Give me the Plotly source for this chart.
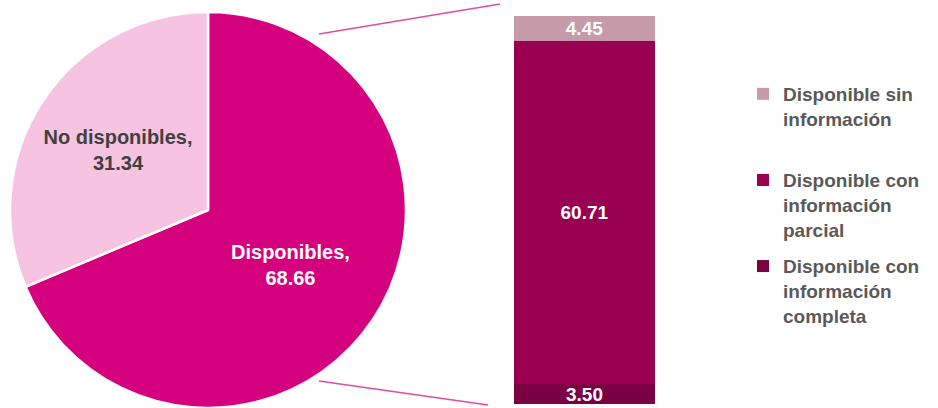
import plotly.graph_objects as go

# Data
pie_labels = ["Disponibles", "No disponibles"]
pie_values = [68.66, 31.34]
pie_colors = ["#D5007E", "#F6C4E0"]
pie_text_colors = ["#FFFFFF", "#404040"]

bar_series = ["Disponible con información completa",
              "Disponible con información parcial",
              "Disponible sin información"]
bar_legend_text = ["Disponible con<br>información<br>completa",
                   "Disponible con<br>información<br>parcial",
                   "Disponible sin<br>información<br> "]
bar_values = [3.50, 60.71, 4.45]
bar_colors = ["#7B0043", "#990052", "#C79AAA"]
bar_legend_rank = [3, 2, 1]
bar_category = ["Disponibles"]

W, H = 938, 408
FONT = "Liberation Sans, Arial, sans-serif"

fig = go.Figure()

fig.add_trace(go.Pie(
    labels=pie_labels, values=pie_values, sort=False, direction="clockwise",
    rotation=0,
    marker=dict(colors=pie_colors, line=dict(color="white", width=2.5)),
    texttemplate="%{label},<br>%{value:.2f}",
    textposition="inside", insidetextorientation="horizontal",
    textfont=dict(family=FONT, size=20, color=pie_text_colors, weight="bold"),
    domain=dict(x=[10 / W, 406 / W], y=[0, (H - 12) / H]),
    showlegend=False, hoverinfo="label+value",
))

for name, ltxt, val, col, rank in zip(bar_series, bar_legend_text, bar_values,
                                      bar_colors, bar_legend_rank):
    fig.add_trace(go.Bar(
        x=bar_category, y=[val], name=ltxt, legendgroup=name, legendrank=rank,
        marker=dict(color=col, line=dict(width=0)),
        width=1, text=[f"{val:.2f}"], textposition="inside",
        insidetextanchor="middle", constraintext="none",
        textfont=dict(family=FONT, size=19, color="white", weight="bold"),
        xaxis="x", yaxis="y", hovertext=name,
    ))

# connector lines between pie and bar
line_col = "#E24BA6"
fig.add_shape(type="line", xref="paper", yref="paper",
              x0=319 / W, y0=(H - 34) / H, x1=500 / W, y1=(H - 4) / H,
              line=dict(color=line_col, width=1.5))
fig.add_shape(type="line", xref="paper", yref="paper",
              x0=319 / W, y0=(H - 381) / H, x1=488 / W, y1=(H - 405) / H,
              line=dict(color=line_col, width=1.5))

fig.update_layout(
    width=W, height=H,
    margin=dict(l=0, r=0, t=0, b=0),
    paper_bgcolor="white", plot_bgcolor="white",
    barmode="stack",
    xaxis=dict(domain=[514 / W, 655 / W], range=[-0.5, 0.5], visible=False,
               fixedrange=True),
    yaxis=dict(domain=[(H - 404) / H, (H - 16) / H],
               range=[0, sum(bar_values)], visible=False, fixedrange=True),
    legend=dict(x=743 / W, y=(H - 75) / H, xanchor="left", yanchor="top",
                traceorder="grouped", tracegroupgap=9, valign="top",
                font=dict(family=FONT, size=19, color="#595959", weight="bold"),
                bgcolor="rgba(0,0,0,0)", itemclick=False, itemdoubleclick=False),
    font=dict(family=FONT),
)

fig.write_html("out.html", config={"displayModeBar": False},
               post_script="document.body.style.margin='0';document.body.style.overflow='hidden';")
